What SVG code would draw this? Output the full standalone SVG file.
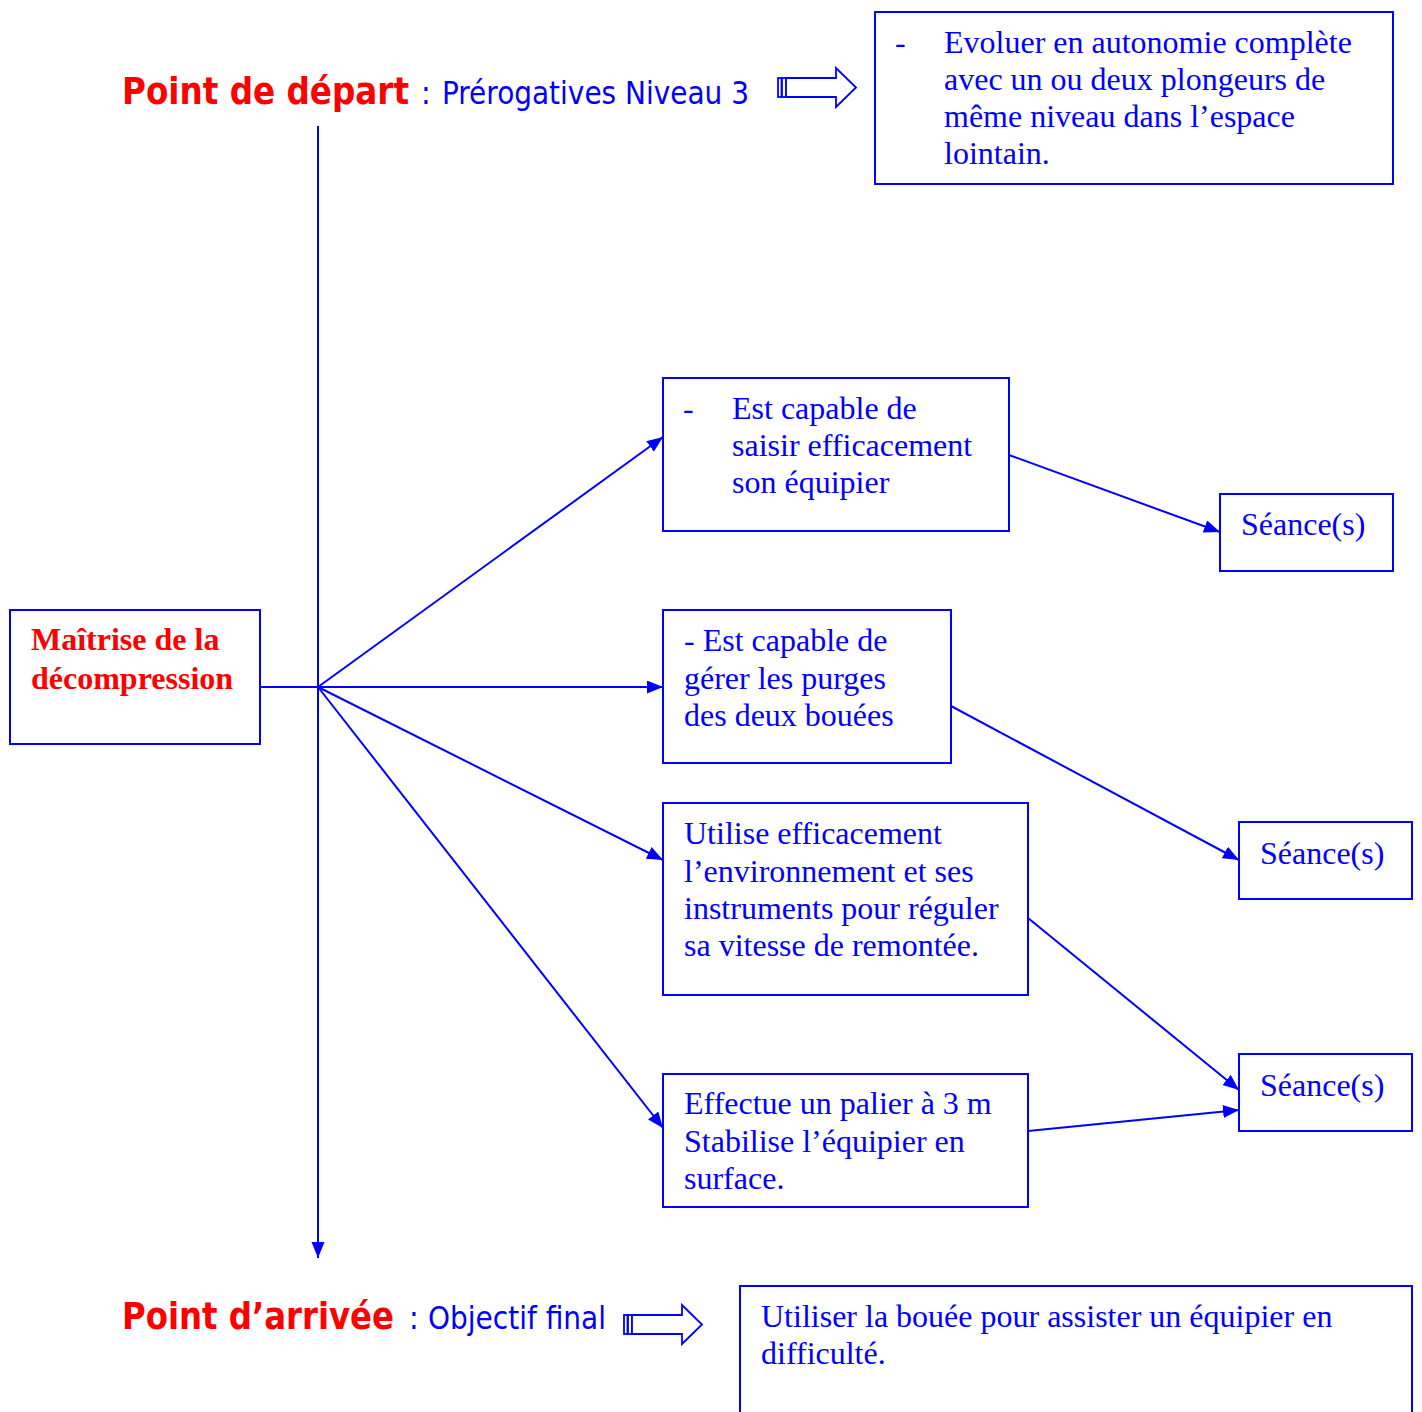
<svg xmlns="http://www.w3.org/2000/svg" width="1422" height="1412" viewBox="0 0 1422 1412">
<style>
.box{fill:#fff;stroke:#0000ff;stroke-width:2}
.t{font-family:"Liberation Serif","Times New Roman",serif;font-size:32px;fill:#0000ff}
.tr{font-family:"Liberation Serif","Times New Roman",serif;font-size:32px;font-weight:bold;fill:#ff0000}
.h{font-family:"DejaVu Sans Condensed","DejaVu Sans",sans-serif;font-weight:bold;fill:#ff0000}
.hs{font-family:"DejaVu Sans Condensed","DejaVu Sans",sans-serif;fill:#0000ff}
.c{stroke:#0000ff;stroke-width:2;fill:none;marker-end:url(#ah)}
.ic{fill:#fff;stroke:#0000ff;stroke-width:1.8}
</style>
<defs>
<marker id="ah" markerUnits="userSpaceOnUse" markerWidth="18" markerHeight="14" refX="16" refY="6.5" orient="auto">
<path d="M0,0 L16,6.5 L0,13 z" fill="#0000ff"/>
</marker>
<g id="blockarrow">
<rect class="ic" x="778" y="78" width="3.5" height="19"/>
<rect class="ic" x="782" y="78" width="4" height="19"/>
<path class="ic" d="M786,78 L836,78 L836,68 L856,87.5 L836,107 L836,97 L786,97 z"/>
</g>
</defs>

<g id="start-title">
<text x="122" y="104" class="h" font-size="38" textLength="287" lengthAdjust="spacingAndGlyphs">Point de départ</text>
<text x="421" y="104" class="hs" font-size="32">:</text>
<text x="442" y="104" class="hs" font-size="32" textLength="307" lengthAdjust="spacingAndGlyphs">Prérogatives Niveau 3</text>
<use href="#blockarrow"/>
</g>

<g id="start-box">
<rect class="box" x="875" y="12" width="518" height="172"/>
<text class="t" x="895" y="53">-</text>
<text class="t"><tspan x="944" y="53">Evoluer en autonomie complète</tspan><tspan x="944" y="90">avec un ou deux plongeurs de</tspan><tspan x="944" y="127">même niveau dans l’espace</tspan><tspan x="944" y="164">lointain.</tspan></text>
</g>

<g id="root">
<rect class="box" x="10" y="610" width="250" height="134"/>
<text class="tr"><tspan x="31" y="650">Maîtrise de la</tspan><tspan x="31" y="689">décompression</tspan></text>
</g>

<g id="n1">
<rect class="box" x="663" y="378" width="346" height="153"/>
<text class="t" x="683" y="419">-</text>
<text class="t"><tspan x="732" y="419">Est capable de</tspan><tspan x="732" y="456">saisir efficacement</tspan><tspan x="732" y="493">son équipier</tspan></text>
</g>

<g id="n2">
<rect class="box" x="663" y="610" width="288" height="153"/>
<text class="t"><tspan x="684" y="651">- Est capable de</tspan><tspan x="684" y="689">gérer les purges</tspan><tspan x="684" y="726">des deux bouées</tspan></text>
</g>

<g id="n3">
<rect class="box" x="663" y="803" width="365" height="192"/>
<text class="t"><tspan x="684" y="844">Utilise efficacement</tspan><tspan x="684" y="882">l’environnement et ses</tspan><tspan x="684" y="919">instruments pour réguler</tspan><tspan x="684" y="956">sa vitesse de remontée.</tspan></text>
</g>

<g id="n4">
<rect class="box" x="663" y="1074" width="365" height="133"/>
<text class="t"><tspan x="684" y="1114">Effectue un palier à 3 m</tspan><tspan x="684" y="1152">Stabilise l’équipier en</tspan><tspan x="684" y="1189">surface.</tspan></text>
</g>

<g id="s1">
<rect class="box" x="1220" y="494" width="173" height="77"/>
<text class="t" x="1241" y="535">Séance(s)</text>
</g>
<g id="s2">
<rect class="box" x="1239" y="822" width="173" height="77"/>
<text class="t" x="1260" y="864">Séance(s)</text>
</g>
<g id="s3">
<rect class="box" x="1239" y="1054" width="173" height="77"/>
<text class="t" x="1260" y="1096">Séance(s)</text>
</g>

<g id="end-title">
<text x="122" y="1329" class="h" font-size="38" textLength="272" lengthAdjust="spacingAndGlyphs">Point d’arrivée</text>
<text x="409" y="1329" class="hs" font-size="32">:</text>
<text x="428" y="1329" class="hs" font-size="32" textLength="178" lengthAdjust="spacingAndGlyphs">Objectif final</text>
<use href="#blockarrow" transform="translate(-154,1237)"/>
</g>

<g id="end-box">
<rect class="box" x="740" y="1286" width="672" height="140"/>
<text class="t"><tspan x="761" y="1327">Utiliser la bouée pour assister un équipier en</tspan><tspan x="761" y="1364">difficulté.</tspan></text>
</g>

<g id="connectors">
<line class="c" x1="318" y1="126" x2="318" y2="1258"/>
<line x1="260" y1="687" x2="318" y2="687" stroke="#0000ff" stroke-width="2"/>
<line class="c" x1="318" y1="687" x2="663" y2="437"/>
<line class="c" x1="318" y1="687" x2="663" y2="687"/>
<line class="c" x1="318" y1="687" x2="663" y2="860"/>
<line class="c" x1="318" y1="687" x2="663" y2="1128"/>
<line class="c" x1="1009" y1="455" x2="1220" y2="532"/>
<line class="c" x1="951" y1="706" x2="1239" y2="860"/>
<line class="c" x1="1028" y1="918" x2="1239" y2="1090"/>
<line class="c" x1="1028" y1="1131" x2="1239" y2="1110"/>
</g>
</svg>
